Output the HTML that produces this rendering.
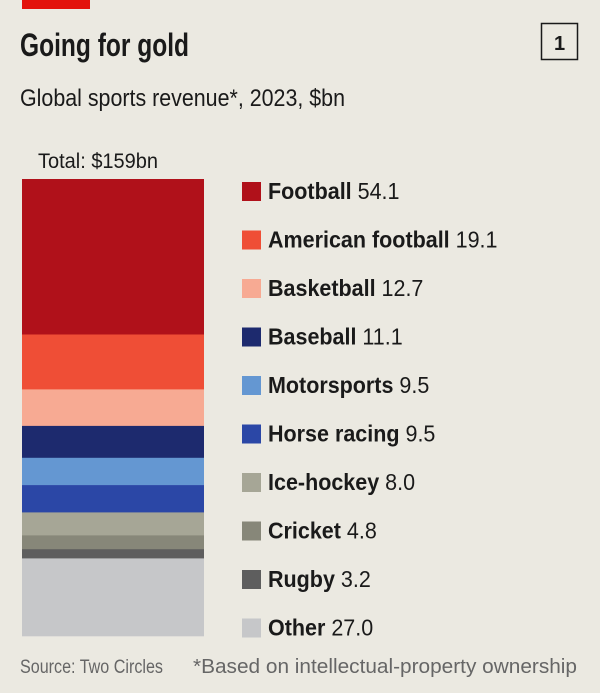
<!DOCTYPE html>
<html><head><meta charset="utf-8"><style>
html,body{margin:0;padding:0;background:#ebe9e1;}
svg{display:block;font-family:"Liberation Sans Narrow","Liberation Sans",sans-serif;}
</style></head><body>
<svg id="chart" width="600" height="693" viewBox="0 0 600 693">
<rect x="0" y="0" width="600" height="693" fill="#ebe9e1"/>
<rect x="22" y="0" width="68" height="9" fill="#e3120b"/>
<text x="20" y="56" font-size="32" font-weight="bold" fill="#1a1a1a" textLength="169" lengthAdjust="spacingAndGlyphs">Going for gold</text>
<rect x="541.5" y="23.5" width="36" height="36" fill="none" stroke="#1a1a1a" stroke-width="1.5"/>
<text x="559.5" y="50" font-size="20" font-weight="bold" text-anchor="middle" fill="#1a1a1a">1</text>
<text x="20" y="106" font-size="24" fill="#1a1a1a" textLength="325" lengthAdjust="spacingAndGlyphs">Global sports revenue*, 2023, $bn</text>
<text x="38" y="168" font-size="21" fill="#1a1a1a" textLength="120" lengthAdjust="spacingAndGlyphs">Total: $159bn</text>
<g id="bars"></g>
<g id="legend"></g>
<text x="20" y="673" font-size="19" fill="#666" textLength="143" lengthAdjust="spacingAndGlyphs">Source: Two Circles</text>
<text x="193" y="673" font-size="20" fill="#666" textLength="384" lengthAdjust="spacingAndGlyphs">*Based on intellectual-property ownership</text>
</svg>
<script>
const categories=["Football","American football","Basketball","Baseball","Motorsports","Horse racing","Ice-hockey","Cricket","Rugby","Other"];
const values=[54.1,19.1,12.7,11.1,9.5,9.5,8.0,4.8,3.2,27.0];
const valueLabels=["54.1","19.1","12.7","11.1","9.5","9.5","8.0","4.8","3.2","27.0"];
const colors=["#b0111a","#ef4e36","#f7aa93","#1d2a6e","#6497d2","#2b47a6","#a6a696","#878779","#5e5e5e","#c6c7c9"];
const total=values.reduce((a,b)=>a+b,0);
const top0=179,bot=636,bx=22,bw=182;
const y=v=>top0+(v/total)*(bot-top0);
const NS="http://www.w3.org/2000/svg";
const bars=document.getElementById('bars'),leg=document.getElementById('legend');
let cum=0;
values.forEach((v,i)=>{
 const r=document.createElementNS(NS,'rect');
 r.setAttribute('x',bx);r.setAttribute('y',y(cum));r.setAttribute('width',bw);r.setAttribute('height',y(cum+v)-y(cum)+0.3);
 r.setAttribute('fill',colors[i]);
 
 
 bars.appendChild(r);cum+=v;
 const ly=191+i*48.5;
 const g=document.createElementNS(NS,'g');
 
 
 const sq=document.createElementNS(NS,'rect');
 sq.setAttribute('x',242);sq.setAttribute('y',ly-9);sq.setAttribute('width',19);sq.setAttribute('height',19);sq.setAttribute('fill',colors[i]);
 
 
 const t=document.createElementNS(NS,'text');
 t.setAttribute('x',268);t.setAttribute('y',ly+8);t.setAttribute('font-size','23');t.setAttribute('fill','#1a1a1a');
 
 
 const a=document.createElementNS(NS,'tspan');a.setAttribute('font-weight','bold');a.textContent=categories[i];
 const b=document.createElementNS(NS,'tspan');b.textContent='\u00a0'+valueLabels[i];
 t.appendChild(a);t.appendChild(b);
 g.appendChild(sq);g.appendChild(t);leg.appendChild(g);
 const w=t.getComputedTextLength();
 t.setAttribute('textLength',(w*0.935).toFixed(1));
 t.setAttribute('lengthAdjust','spacingAndGlyphs');
});
</script>
</body></html>
